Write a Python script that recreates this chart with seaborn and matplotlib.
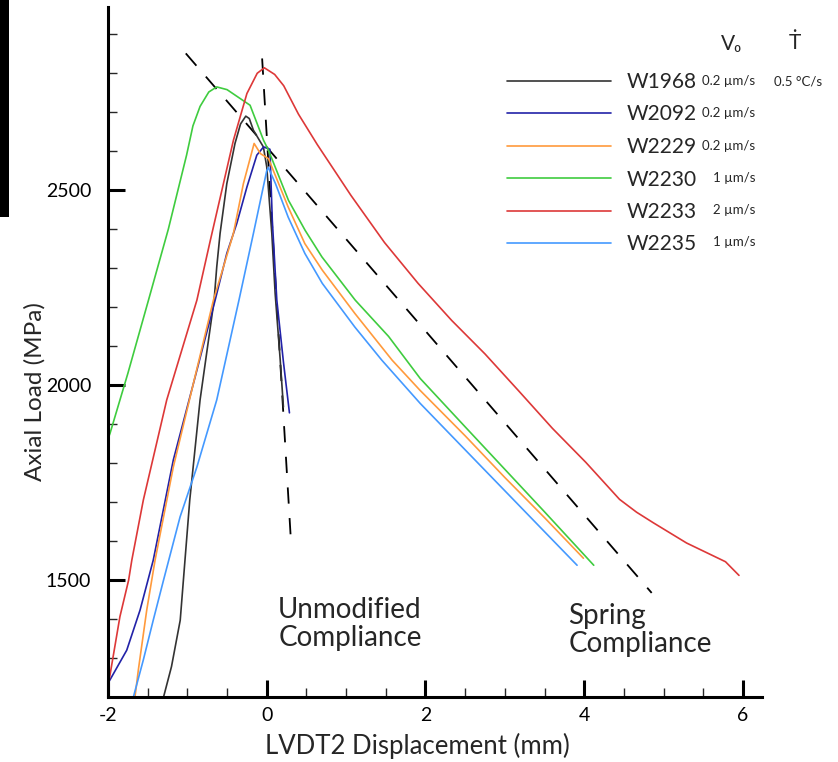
import matplotlib
matplotlib.use("Agg")
import matplotlib.pyplot as plt
from matplotlib.patches import Rectangle
from matplotlib.ticker import MultipleLocator
import seaborn as sns
import pandas as pd

# ---------------- data ----------------
samples = ["W1968", "W2092", "W2229", "W2230", "W2233", "W2235"]
rates = ["0.2 µm/s", "0.2 µm/s", "0.2 µm/s", "1 µm/s", "2 µm/s", "1 µm/s"]
heating = ["0.5 °C/s", "", "", "", "", ""]
colors = ["#333333", "#2222a8", "#ff9a3c", "#3fcc3f", "#dd3838", "#4499ff"]

w1968_x = [-1.30, -1.20, -1.09, -1.05, -0.97, -0.84, -0.663, -0.63, -0.588, -0.503, -0.40, -0.33, -0.264,
           -0.22, -0.168, -0.042, 0.0, 0.064, 0.106, 0.17, 0.21]
w1968_y = [1200, 1278, 1397, 1500, 1705, 1962, 2218, 2303, 2389, 2517, 2620, 2670, 2690,
           2684, 2654, 2611, 2560, 2389, 2235, 2064, 1944]

w2092_x = [-2.0, -1.975, -1.764, -1.596, -1.43, -1.177, -0.924, -0.65, -0.503, -0.377, -0.25, -0.125,
           -0.04, 0.04, 0.07, 0.127, 0.21, 0.286]
w2092_y = [1236, 1244, 1320, 1423, 1551, 1808, 2004, 2218, 2338, 2415, 2508, 2590,
           2611, 2605, 2423, 2218, 2060, 1929]

w2229_x = [-1.66, -1.618, -1.512, -1.407, -1.177, -0.672, -0.546, -0.42, -0.294, -0.159, -0.08, 0.022,
           0.27, 0.48, 0.70, 1.11, 1.58, 1.93, 2.5, 3.0, 3.5, 3.99]
w2229_y = [1200, 1269, 1423, 1551, 1790, 2218, 2303, 2389, 2517, 2620, 2594, 2581,
           2457, 2363, 2295, 2184, 2064, 1987, 1870, 1763, 1660, 1556]

w2230_x = [-2.0, -1.975, -1.75, -1.49, -1.24, -1.01, -0.93, -0.84, -0.73, -0.63, -0.5, -0.21, -0.04,
           0.021, 0.274, 0.484, 0.695, 1.115, 1.535, 1.934, 2.5, 3.0, 3.5, 4.12]
w2230_y = [1862, 1876, 2030, 2218, 2400, 2590, 2665, 2715, 2752, 2765, 2758, 2718, 2628,
           2603, 2474, 2397, 2329, 2218, 2125, 2017, 1893, 1784, 1675, 1538]

w2233_x = [-2.0, -1.975, -1.85, -1.74, -1.70, -1.555, -1.26, -1.033, -0.88, -0.71, -0.42, -0.25, -0.12,
           -0.03, 0.10, 0.214, 0.40, 0.637, 1.06, 1.483, 1.907, 2.33, 2.75, 3.18, 3.6, 4.02, 4.445,
           4.66, 4.87, 5.29, 5.78, 5.95]
w2233_y = [1228, 1256, 1406, 1500, 1551, 1705, 1962, 2115, 2218, 2372, 2628, 2748, 2800,
           2814, 2797, 2768, 2695, 2617, 2487, 2366, 2261, 2166, 2080, 1984, 1889, 1802, 1707,
           1674, 1647, 1595, 1547, 1512]

w2235_x = [-1.68, -1.555, -1.43, -1.30, -1.092, -0.88, -0.63, -0.35, -0.168, 0.0, 0.02, 0.11, 0.27,
           0.48, 0.70, 1.11, 1.45, 1.934, 2.5, 3.0, 3.5, 3.91]
w2235_y = [1200, 1295, 1397, 1500, 1662, 1790, 1962, 2218, 2389, 2550, 2558, 2517, 2431,
           2338, 2261, 2149, 2064, 1953, 1834, 1729, 1624, 1538]

# compliance reference lines
spring_x = [-1.02, 4.85]
spring_y = [2851, 1467]
unmod_x = [-0.058, 0.308]
unmod_y = [2838, 1590]

xs = [w1968_x, w2092_x, w2229_x, w2230_x, w2233_x, w2235_x]
ys = [w1968_y, w2092_y, w2229_y, w2230_y, w2233_y, w2235_y]

frames = []
for name, xv, yv in zip(samples, xs, ys):
    frames.append(pd.DataFrame({"disp": xv, "load": yv, "sample": name}))
df = pd.concat(frames, ignore_index=True)

ref = pd.concat([
    pd.DataFrame({"disp": spring_x, "load": spring_y, "line": "spring"}),
    pd.DataFrame({"disp": unmod_x, "load": unmod_y, "line": "unmod"}),
], ignore_index=True)

# ---------------- plotting ----------------
sns.set_theme(style="white")
plt.rcParams["font.family"] = ["Lato", "DejaVu Sans"]
plt.rcParams["axes.linewidth"] = 2.2
plt.rcParams["axes.unicode_minus"] = False

fig = plt.figure(figsize=(8.38, 7.62), dpi=100)
ax = fig.add_axes([108 / 838, 65 / 762, 654 / 838, 690 / 762])

sns.lineplot(data=ref, x="disp", y="load", units="line", estimator=None, sort=False,
             color="black", lw=1.3, ax=ax, legend=False, linestyle=(0, (9, 8)))
sns.lineplot(data=df, x="disp", y="load", hue="sample", palette=colors, hue_order=samples,
             estimator=None, sort=False, lw=1.2, ax=ax)

ax.set_xlim(-2, 6.24)
ax.set_ylim(1200, 2970)
ax.xaxis.set_major_locator(MultipleLocator(2))
ax.xaxis.set_minor_locator(MultipleLocator(0.5))
ax.yaxis.set_major_locator(MultipleLocator(500))
ax.yaxis.set_minor_locator(MultipleLocator(100))
ax.tick_params(which="major", direction="in", length=12, width=2.2, labelsize=14,
               colors="black", left=True, bottom=True)
ax.tick_params(axis="y", which="major", pad=12)
ax.tick_params(axis="x", which="major", pad=7)
ax.tick_params(which="minor", direction="in", length=6.5, width=1.0, left=True, bottom=True)
for s in ["top", "right"]:
    ax.spines[s].set_visible(False)
for s in ["left", "bottom"]:
    ax.spines[s].set_color("black")

ax.set_xlabel("LVDT2 Displacement (mm)", fontsize=18.5)
ax.set_ylabel("Axial Load (MPa)", fontsize=17.5)
ax.xaxis.set_label_coords(0.4725, -0.052)
ax.yaxis.set_label_coords(-0.095, 0.443)

ax.text(0.144, 1456, "Unmodified\nCompliance", fontsize=20, ha="left", va="top", linespacing=1.08)
ax.text(3.80, 1440, "Spring\nCompliance", fontsize=20, ha="left", va="top", linespacing=1.08)

# legend
handles, labels = ax.get_legend_handles_labels()
ax.legend(handles, labels, loc="upper left", bbox_to_anchor=(507 / 838, 1 - 72 / 762),
          bbox_transform=fig.transFigure, frameon=False, fontsize=15, handlelength=5.0,
          handletextpad=0.75, labelspacing=0.6, borderpad=0, borderaxespad=0)

row_y = [81, 113.3, 145.7, 177.7, 210, 242.3]
for r, yy in zip(rates, row_y):
    fig.text(755 / 838, 1 - yy / 762, r, fontsize=9.5, ha="right", va="center")
fig.text(798 / 838, 1 - row_y[0] / 762, heating[0], fontsize=9.5, ha="center", va="center")
fig.text(731 / 838, 1 - 44 / 762, "V₀", fontsize=15, ha="center", va="center")
fig.text(795 / 838, 1 - 43 / 762, "Ṫ", fontsize=15, ha="center", va="center")

# black bar at left edge of the image
fig.patches.append(Rectangle((0, 1 - 217 / 762), 9 / 838, 217 / 762, transform=fig.transFigure,
                             facecolor="black", edgecolor="none"))

fig.savefig("out.png", dpi=100)
